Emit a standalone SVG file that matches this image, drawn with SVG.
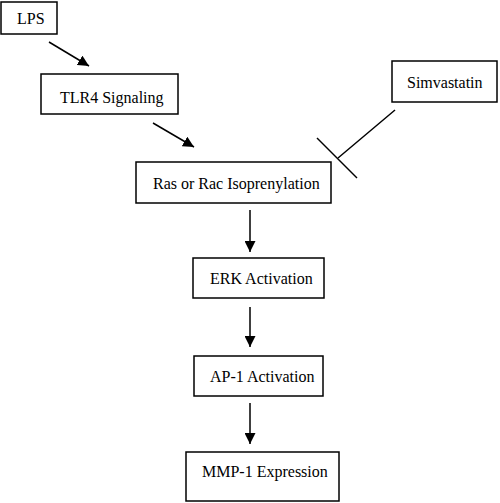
<svg xmlns="http://www.w3.org/2000/svg" width="500" height="503" viewBox="0 0 500 503">
<style>
.box{fill:#fff;stroke:#000;stroke-width:1.5}
.t{font-family:"Liberation Serif","Times New Roman",serif;font-size:16px;fill:#000}
.c{stroke:#000;stroke-width:1.5;fill:none}
</style>
<defs>
<marker id="ah" viewBox="0 0 10 10" refX="10" refY="5" markerWidth="8" markerHeight="8" markerUnits="userSpaceOnUse" orient="auto"><path d="M0,0 L10,5 L0,10 z" fill="#000"/></marker>
<marker id="ah2" viewBox="0 0 10 10" refX="10" refY="5" markerWidth="11" markerHeight="11" markerUnits="userSpaceOnUse" orient="auto"><path d="M0,0 L10,5 L0,10 z" fill="#000"/></marker>
</defs>
<rect width="500" height="503" fill="#fff"/>
<g id="connectors">
<line class="c" x1="49" y1="42" x2="89" y2="66" marker-end="url(#ah2)"/>
<line class="c" x1="153" y1="123" x2="194" y2="147" marker-end="url(#ah2)"/>
<line class="c" x1="395" y1="110" x2="338" y2="158"/>
<line class="c" x1="317" y1="138" x2="357" y2="178"/>
<line class="c" x1="250" y1="210" x2="250" y2="252" marker-end="url(#ah2)"/>
<line class="c" x1="250" y1="307" x2="250" y2="347" marker-end="url(#ah2)"/>
<line class="c" x1="250" y1="403" x2="250" y2="444" marker-end="url(#ah2)"/>
</g>
<g id="lps"><rect class="box" x="1" y="2" width="56" height="32"/><text class="t" x="17" y="24">LPS</text></g>
<g id="tlr4"><rect class="box" x="41" y="74" width="137" height="40"/><text class="t" x="60" y="103">TLR4 Signaling</text></g>
<g id="simvastatin"><rect class="box" x="392" y="61" width="105" height="41"/><text class="t" x="407" y="88">Simvastatin</text></g>
<g id="ras"><rect class="box" x="136" y="162" width="195" height="41"/><text class="t" x="153" y="189">Ras or Rac Isoprenylation</text></g>
<g id="erk"><rect class="box" x="193" y="258" width="131" height="40"/><text class="t" x="210" y="284">ERK Activation</text></g>
<g id="ap1"><rect class="box" x="194" y="356" width="129" height="40"/><text class="t" x="210" y="382">AP-1 Activation</text></g>
<g id="mmp1"><rect class="box" x="186" y="452" width="153" height="49"/><text class="t" x="202" y="477">MMP-1 Expression</text></g>
</svg>
